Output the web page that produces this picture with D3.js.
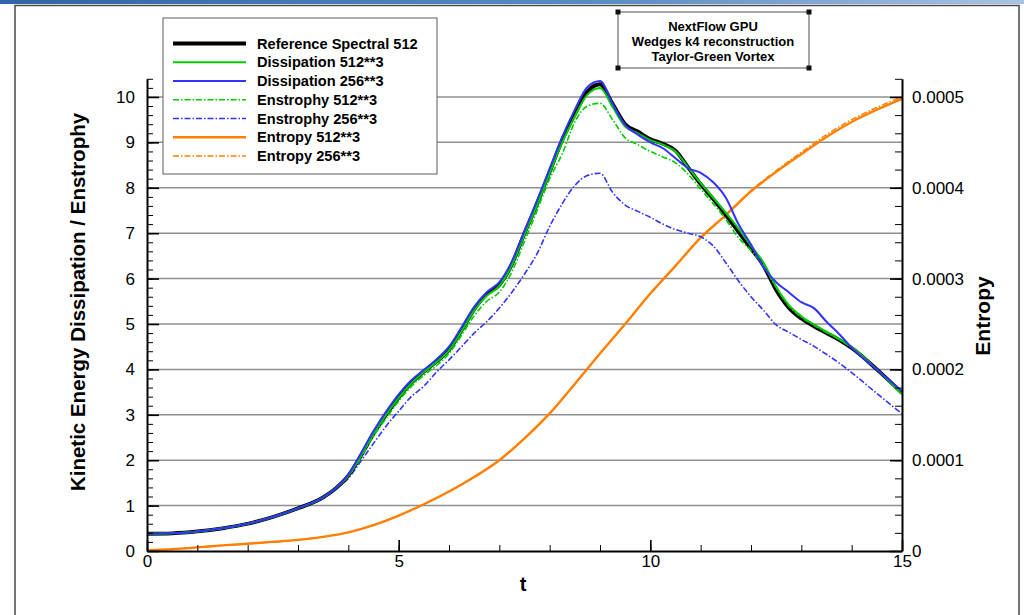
<!DOCTYPE html>
<html><head><meta charset="utf-8">
<script src="https://cdn.jsdelivr.net/npm/d3@7"></script>
<style>
html,body{margin:0;padding:0;background:#fff;}
svg{display:block;font-family:"Liberation Sans",Arial,sans-serif;}
</style></head><body>
<svg id="chart" width="1024" height="615"></svg>
<script>
// ---------- DATA ----------
const time = [0,0.5,1,1.5,2,2.5,3,3.5,3.75,4,4.25,4.5,4.75,5,5.25,5.5,5.75,6,6.25,6.5,6.75,7,7.25,7.5,7.75,8,8.25,8.5,8.75,9,9.25,9.5,9.75,10,10.25,10.5,10.75,11,11.25,11.5,11.75,12,12.25,12.5,12.75,13,13.25,13.5,13.75,14,14.5,15];
const refSpectral512 = [0.38,0.39,0.43,0.5,0.6,0.75,0.94,1.18,1.38,1.66,2.1,2.58,3.0,3.38,3.7,3.95,4.17,4.43,4.86,5.32,5.66,5.86,6.32,7.0,7.65,8.35,9.05,9.62,10.12,10.28,9.85,9.4,9.24,9.07,8.97,8.82,8.45,8.08,7.75,7.4,7.03,6.66,6.28,5.75,5.36,5.12,4.95,4.8,4.65,4.47,4.0,3.48];
const dissipation512 = [0.38,0.39,0.43,0.5,0.6,0.75,0.94,1.18,1.38,1.66,2.1,2.58,3.0,3.37,3.69,3.94,4.16,4.42,4.84,5.3,5.62,5.84,6.3,6.97,7.62,8.32,9.0,9.57,10.05,10.2,9.78,9.35,9.2,9.05,8.95,8.8,8.45,8.1,7.78,7.45,7.1,6.72,6.35,5.82,5.42,5.17,4.99,4.83,4.67,4.49,4.0,3.45];
const dissipation256 = [0.38,0.39,0.43,0.5,0.6,0.75,0.94,1.18,1.38,1.68,2.15,2.64,3.07,3.45,3.76,3.99,4.22,4.5,4.93,5.38,5.7,5.92,6.38,7.05,7.72,8.42,9.12,9.72,10.22,10.35,9.85,9.38,9.17,9.0,8.87,8.65,8.43,8.33,8.12,7.78,7.2,6.75,6.25,5.92,5.7,5.48,5.35,5.05,4.78,4.48,4.0,3.52];
const enstrophy512 = [0.38,0.39,0.43,0.5,0.6,0.75,0.94,1.18,1.38,1.65,2.06,2.53,2.92,3.3,3.62,3.87,4.08,4.35,4.75,5.18,5.5,5.7,6.15,6.82,7.5,8.2,8.75,9.45,9.8,9.86,9.5,9.1,8.95,8.8,8.68,8.55,8.3,7.97,7.65,7.3,6.9,6.62,6.28,5.8,5.4,5.15,4.97,4.81,4.66,4.48,4.0,3.46];
const enstrophy256 = [0.38,0.39,0.43,0.5,0.6,0.75,0.94,1.18,1.36,1.6,1.98,2.37,2.75,3.08,3.4,3.63,3.94,4.21,4.5,4.8,5.05,5.35,5.7,6.1,6.55,7.15,7.65,8.05,8.27,8.32,7.9,7.62,7.48,7.35,7.2,7.08,7.0,6.92,6.72,6.35,5.95,5.6,5.3,4.98,4.82,4.66,4.51,4.33,4.14,3.93,3.47,3.02];
const timeEntropy = [0,0.5,1,1.5,2,2.5,3,3.5,4,4.5,5,5.5,6,6.5,7,7.5,8,8.5,9,9.5,10,10.5,11,11.5,12,12.5,13,13.5,14,14.5,15];
const entropy512 = [1.0e-6,2.0e-6,4.0e-6,6.2e-6,8.0e-6,1.0e-5,1.22e-5,1.55e-5,2.05e-5,2.85e-5,3.9e-5,5.15e-5,6.55e-5,8.15e-5,1.0e-4,1.24e-4,1.515e-4,1.84e-4,2.175e-4,2.50e-4,2.835e-4,3.14e-4,3.45e-4,3.70e-4,3.96e-4,4.175e-4,4.37e-4,4.56e-4,4.725e-4,4.86e-4,4.98e-4];
const entropy256 = [1.0e-6,2.0e-6,4.0e-6,6.2e-6,8.0e-6,1.0e-5,1.22e-5,1.55e-5,2.05e-5,2.85e-5,3.9e-5,5.15e-5,6.55e-5,8.15e-5,1.0e-4,1.24e-4,1.515e-4,1.84e-4,2.175e-4,2.50e-4,2.835e-4,3.14e-4,3.452e-4,3.705e-4,3.97e-4,4.19e-4,4.39e-4,4.585e-4,4.75e-4,4.885e-4,5.0e-4];

const xTicks = [0,5,10,15];
const xTickLabels = ["0","5","10","15"];
const leftTicks = [0,1,2,3,4,5,6,7,8,9,10];
const leftTickLabels = ["0","1","2","3","4","5","6","7","8","9","10"];
const rightTicks = [0,0.0001,0.0002,0.0003,0.0004,0.0005];
const rightTickLabels = ["0","0.0001","0.0002","0.0003","0.0004","0.0005"];
const legendLabels = ["Reference Spectral 512","Dissipation 512**3","Dissipation 256**3","Enstrophy 512**3","Enstrophy 256**3","Entropy 512**3","Entropy 256**3"];
const titleLines = ["NextFlow GPU","Wedges k4 reconstruction","Taylor-Green Vortex"];

// ---------- LAYOUT ----------
const svg = d3.select("#chart");
const x = d3.scaleLinear().domain([0,15]).range([147,902]);
const y = d3.scaleLinear().domain([0,10.4]).range([551,78.8]);
const yR = d3.scaleLinear().domain([0,0.00052]).range([551,78.8]);

// top bar + frame
const defs = svg.append("defs");
const grad = defs.append("linearGradient").attr("id","topbar");
grad.append("stop").attr("offset","0%").attr("stop-color","#2f64a8");
grad.append("stop").attr("offset","60%").attr("stop-color","#5b8cc6");
grad.append("stop").attr("offset","100%").attr("stop-color","#a9c3e3");
svg.append("rect").attr("x",0).attr("y",0).attr("width",1024).attr("height",4).attr("fill","url(#topbar)");
svg.append("rect").attr("x",15).attr("y",5.5).attr("width",1004).attr("height",640)
  .attr("fill","none").attr("stroke","#4a4a4a").attr("stroke-width",1.5);

// gridlines
svg.append("g").selectAll("line").data(leftTicks.filter(d=>d>0)).join("line")
  .attr("x1",x(0)).attr("x2",x(15)).attr("y1",d=>y(d)).attr("y2",d=>y(d))
  .attr("stroke","#8f8f8f").attr("stroke-width",1.5);

// series
const styles = {
  ref:{color:"#000000",w:3.8,dash:null},
  d512:{color:"#00cc00",w:2,dash:null},
  d256:{color:"#3333ff",w:2,dash:null},
  e512:{color:"#00cc00",w:1.6,dash:"6,2,1.5,2"},
  e256:{color:"#3333ff",w:1.6,dash:"6,2,1.5,2"},
  s512:{color:"#ff8000",w:2.4,dash:null},
  s256:{color:"#ff8000",w:1.5,dash:"6,2,1.5,2"}
};
const lineL = d3.line().x(d=>x(d[0])).y(d=>y(d[1])).curve(d3.curveMonotoneX);
const lineR = d3.line().x(d=>x(d[0])).y(d=>yR(d[1])).curve(d3.curveMonotoneX);
const series = [
  {k:"s256",t:timeEntropy,v:entropy256,line:lineR},
  {k:"s512",t:timeEntropy,v:entropy512,line:lineR},
  {k:"e256",t:time,v:enstrophy256,line:lineL},
  {k:"ref",t:time,v:refSpectral512,line:lineL},
  {k:"e512",t:time,v:enstrophy512,line:lineL},
  {k:"d512",t:time,v:dissipation512,line:lineL},
  {k:"d256",t:time,v:dissipation256,line:lineL}
];
const gS = svg.append("g");
series.forEach(s=>{
  const st = styles[s.k];
  gS.append("path").datum(s.t.map((t,i)=>[t,s.v[i]]))
    .attr("d",s.line).attr("fill","none").attr("stroke",st.color)
    .attr("stroke-width",st.w).attr("stroke-dasharray",st.dash)
    .attr("stroke-linejoin","round");
});

// axes
function styleAxis(g, fs){
  g.selectAll(".domain").attr("stroke","#000").attr("stroke-width",2);
  g.selectAll(".tick line").attr("stroke","#000").attr("stroke-width",1.6);
  g.selectAll(".tick text").attr("fill","#000").style("font-size",fs+"px")
   .style("font-family","'Liberation Sans',Arial,sans-serif");
}
const minorLeft = d3.range(0,10.41,0.2).map(v=>+v.toFixed(2));
const gLm = svg.append("g").attr("transform","translate(147,0)")
  .call(d3.axisLeft(y).tickValues(minorLeft).tickSize(-6).tickSizeOuter(0).tickFormat(""));
gLm.selectAll(".tick line").attr("stroke","#000").attr("stroke-width",1);
gLm.select(".domain").remove();
const gL = svg.append("g").attr("transform","translate(147,0)")
  .call(d3.axisLeft(y).tickValues(leftTicks).tickSize(-12).tickSizeOuter(0).tickPadding(12)
  .tickFormat((d,i)=>leftTickLabels[i]));
styleAxis(gL,17);

const minorRight = d3.range(0,0.000521,0.00002);
const gRm = svg.append("g").attr("transform","translate(902,0)")
  .call(d3.axisRight(yR).tickValues(minorRight).tickSize(-7).tickSizeOuter(0).tickFormat(""));
gRm.selectAll(".tick line").attr("stroke","#000").attr("stroke-width",1);
gRm.select(".domain").remove();
const gR = svg.append("g").attr("transform","translate(902,0)")
  .call(d3.axisRight(yR).tickValues(rightTicks).tickSize(-12).tickSizeOuter(0).tickPadding(10)
  .tickFormat((d,i)=>rightTickLabels[i]));
styleAxis(gR,17);

const gBm = svg.append("g").attr("transform","translate(0,551)")
  .call(d3.axisBottom(x).tickValues(d3.range(0,16,1)).tickSize(-6).tickSizeOuter(0).tickFormat(""));
gBm.selectAll(".tick line").attr("stroke","#000").attr("stroke-width",1);
gBm.select(".domain").remove();
const gB = svg.append("g").attr("transform","translate(0,551)")
  .call(d3.axisBottom(x).tickValues(xTicks).tickSize(-11).tickSizeOuter(0).tickPadding(4)
  .tickFormat((d,i)=>xTickLabels[i]));
styleAxis(gB,17);

// axis titles
svg.append("text").attr("transform","translate(85,302) rotate(-90)")
  .attr("text-anchor","middle").style("font-weight","bold").style("font-size","20.5px")
  .text("Kinetic Energy Dissipation / Enstrophy");
svg.append("text").attr("transform","translate(990,316) rotate(-90)")
  .attr("text-anchor","middle").style("font-weight","bold").style("font-size","21px")
  .text("Entropy");
svg.append("text").attr("x",523).attr("y",591)
  .attr("text-anchor","middle").style("font-weight","bold").style("font-size","20px").text("t");

// legend
const lg = svg.append("g");
lg.append("rect").attr("x",163).attr("y",18).attr("width",274).attr("height",156)
  .attr("fill","#fff").attr("stroke","#777").attr("stroke-width",1.2);
const legKeys = ["ref","d512","d256","e512","e256","s512","s256"];
legKeys.forEach((k,i)=>{
  const yy = 43.5 + i*18.75;
  const st = styles[k];
  lg.append("line").attr("x1",173).attr("x2",246).attr("y1",yy).attr("y2",yy)
    .attr("stroke",st.color).attr("stroke-width",k==="ref"?4:st.w)
    .attr("stroke-dasharray",st.dash);
  lg.append("text").attr("x",257).attr("y",yy+5).style("font-weight","bold")
    .style("font-size","14.6px").text(legendLabels[i]);
});

// title box
const tb = svg.append("g");
tb.append("rect").attr("x",618).attr("y",12).attr("width",191).attr("height",56)
  .attr("fill","#fff").attr("stroke","#888").attr("stroke-width",1.5);
[[618,12],[809,12],[618,68],[809,68]].forEach(p=>{
  tb.append("rect").attr("x",p[0]-2.5).attr("y",p[1]-2.5).attr("width",5).attr("height",5).attr("fill","#111");
});
titleLines.forEach((s,i)=>{
  tb.append("text").attr("x",713).attr("y",30.5+i*15).attr("text-anchor","middle")
    .style("font-weight","bold").style("font-size","13px").text(s);
});
</script>
</body></html>
